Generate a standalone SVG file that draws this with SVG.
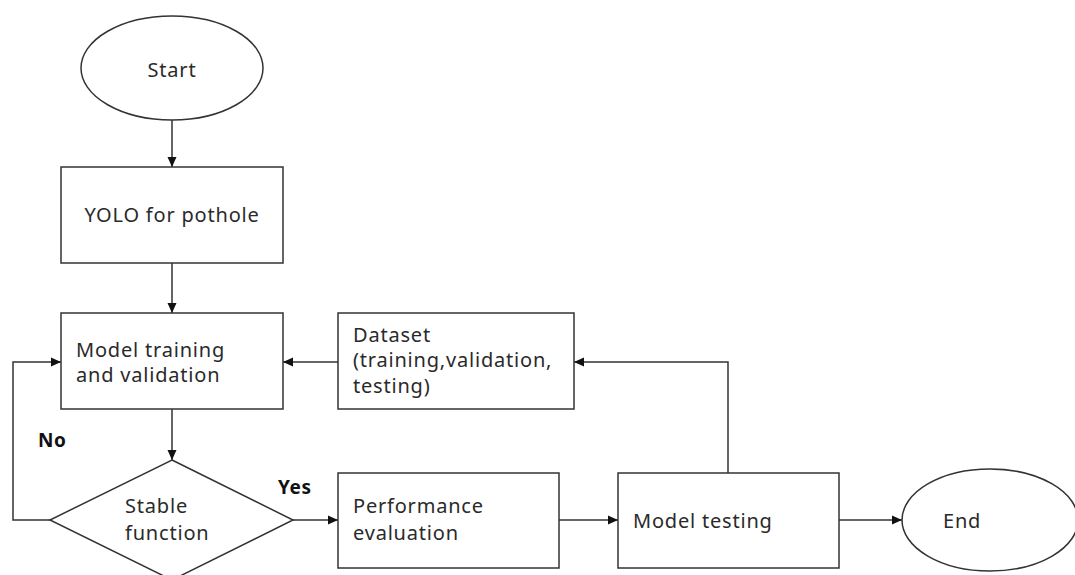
<svg xmlns="http://www.w3.org/2000/svg" width="1075" height="575" viewBox="0 0 1075 575">
<defs>
<marker id="ah" viewBox="0 0 10 10" refX="10" refY="5" markerWidth="10" markerHeight="10" markerUnits="userSpaceOnUse" orient="auto">
<path d="M0,0.5 L10,5 L0,9.5 z" fill="#111"/>
</marker>
<style>
.s{fill:#fff;stroke:#333;stroke-width:1.5}
.t{font-family:"Noto Sans","Open Sans",sans-serif;font-size:20px;letter-spacing:0.8px;fill:#2a2a2a}
.b{font-family:"Noto Sans","Open Sans",sans-serif;font-size:19px;letter-spacing:0.6px;font-weight:bold;fill:#111}
.c{fill:none;stroke:#333;stroke-width:1.5;marker-end:url(#ah)}
</style>
</defs>
<rect width="1075" height="575" fill="#fff"/>
<g id="connectors">
<path class="c" d="M172,119 V167"/>
<path class="c" d="M172,263 V313"/>
<path class="c" d="M172,409 V460"/>
<path class="c" d="M50,520 H13 V362 H61"/>
<path class="c" d="M338,362 H283"/>
<path class="c" d="M293,520 H338"/>
<path class="c" d="M559,520 H618"/>
<path class="c" d="M728,473 V362 H574"/>
<path class="c" d="M839,520 H902"/>
<text class="b" x="38" y="447">No</text>
<text class="b" x="278" y="494">Yes</text>
</g>
<g id="start">
<ellipse class="s" cx="172" cy="68" rx="91" ry="52"/>
<text class="t" x="172" y="77" text-anchor="middle">Start</text>
</g>
<g id="yolo">
<rect class="s" x="61" y="167" width="222" height="96"/>
<text class="t" x="172" y="222" text-anchor="middle">YOLO for pothole</text>
</g>
<g id="training">
<rect class="s" x="61" y="313" width="222" height="96"/>
<text class="t" x="76" y="357">Model training</text>
<text class="t" x="76" y="382">and validation</text>
</g>
<g id="dataset">
<rect class="s" x="338" y="313" width="236" height="96"/>
<text class="t" x="353" y="342">Dataset</text>
<text class="t" x="353" y="367">(training,validation,</text>
<text class="t" x="353" y="393">testing)</text>
</g>
<g id="stable">
<polygon class="s" points="172,460 293,520 172,580 50,520"/>
<text class="t" x="125" y="513">Stable</text>
<text class="t" x="125" y="540">function</text>
</g>
<g id="performance">
<rect class="s" x="338" y="473" width="221" height="95"/>
<text class="t" x="353" y="513">Performance</text>
<text class="t" x="353" y="540">evaluation</text>
</g>
<g id="testing">
<rect class="s" x="618" y="473" width="221" height="95"/>
<text class="t" x="633" y="528">Model testing</text>
</g>
<g id="end">
<ellipse class="s" cx="990" cy="520" rx="88" ry="51"/>
<text class="t" x="943" y="528">End</text>
</g>
</svg>
